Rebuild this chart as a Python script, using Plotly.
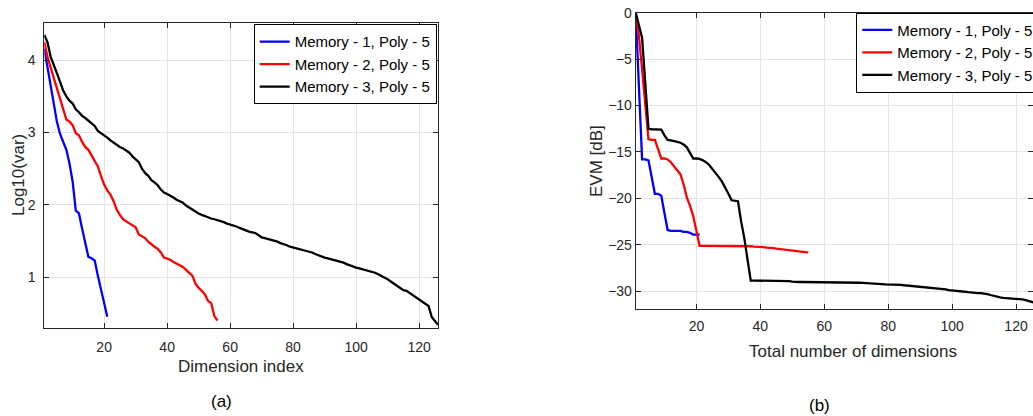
import plotly.graph_objects as go

# ---------------- data: (a) Log10(var) vs dimension index ----------------
var_mem1 = [4.16, 3.90, 3.64, 3.40, 3.15, 2.98, 2.88, 2.76, 2.57, 2.32,
            1.92, 1.88, 1.67, 1.47, 1.28, 1.26, 1.23, 1.02, 0.82, 0.66, 0.45]

var_mem2 = [4.25, 4.05, 3.90, 3.75, 3.60, 3.45, 3.30, 3.18, 3.15, 3.10,
            2.99, 2.96, 2.87, 2.80, 2.76, 2.68, 2.60, 2.53, 2.40, 2.28,
            2.20, 2.14, 2.05, 1.93, 1.86, 1.80, 1.77, 1.74, 1.71, 1.69,
            1.59, 1.57, 1.54, 1.49, 1.45, 1.42, 1.39, 1.34, 1.27, 1.26,
            1.24, 1.21, 1.19, 1.16, 1.14, 1.10, 1.06, 1.02, 0.91, 0.85,
            0.81, 0.76, 0.67, 0.64, 0.46, 0.40]

var_mem3 = [4.35, 4.25, 4.05, 3.92, 3.82, 3.70, 3.58, 3.50, 3.44, 3.40,
            3.32, 3.28, 3.23, 3.20, 3.16, 3.12, 3.09, 3.02, 2.99, 2.97,
            2.93, 2.89, 2.86, 2.82, 2.80, 2.78, 2.75, 2.72, 2.67, 2.63,
            2.59, 2.50, 2.44, 2.40, 2.34, 2.31, 2.27, 2.21, 2.17, 2.15,
            2.13, 2.10, 2.07, 2.05, 2.03, 1.99, 1.96, 1.93, 1.90, 1.88,
            1.86, 1.84, 1.82, 1.81, 1.80, 1.79, 1.77, 1.76, 1.74, 1.73,
            1.72, 1.70, 1.68, 1.66, 1.64, 1.63, 1.62, 1.61, 1.58, 1.55,
            1.54, 1.53, 1.51, 1.50, 1.49, 1.47, 1.46, 1.44, 1.42, 1.41,
            1.40, 1.39, 1.38, 1.36, 1.35, 1.34, 1.32, 1.30, 1.28, 1.27,
            1.26, 1.25, 1.23, 1.22, 1.21, 1.20, 1.18, 1.16, 1.14, 1.13,
            1.12, 1.11, 1.10, 1.09, 1.08, 1.06, 1.04, 1.02, 1.00, 0.97,
            0.94, 0.91, 0.88, 0.85, 0.82, 0.81, 0.78, 0.76, 0.73, 0.69,
            0.66, 0.63, 0.60, 0.45, 0.39, 0.34]

# ---------------- data: (b) EVM vs total number of dimensions ----------------
evm_mem1 = [0.0, -7.9, -15.8, -15.8, -15.9, -17.7, -19.5, -19.5, -19.7, -21.6,
            -23.4, -23.5, -23.5, -23.5, -23.5, -23.6, -23.6, -23.7, -23.9, -23.9,
            -23.9]

evm_mem2 = [0.0, -2.5, -6.1, -10.1, -13.6, -13.7, -13.7, -14.7, -15.7, -15.7,
            -15.8, -16.1, -16.5, -17.0, -17.4, -18.5, -19.9, -20.8, -21.9, -23.5,
            -25.1, -25.1, -25.1, -25.1, -25.1, -25.1, -25.1, -25.1, -25.1, -25.1,
            -25.1, -25.1, -25.1, -25.1, -25.1, -25.1, -25.15, -25.2, -25.2, -25.25,
            -25.25, -25.3, -25.3, -25.35, -25.4, -25.45, -25.5, -25.55, -25.6, -25.65,
            -25.7, -25.72, -25.75, -25.78, -25.8]

evm_mem3 = [0.0, -1.4, -2.7, -7.6, -12.5, -12.55, -12.55, -12.6, -12.6, -13.2,
            -13.7, -13.75, -13.8, -13.9, -14.0, -14.2, -14.5, -15.1, -15.7, -15.7,
            -15.75, -15.9, -16.1, -16.4, -16.8, -17.2, -17.7, -18.2, -18.8, -19.5,
            -20.2, -20.25, -20.3, -22.5, -24.3, -26.6, -28.85, -28.85, -28.85, -28.85,
            -28.86, -28.87, -28.87, -28.88, -28.88, -28.89, -28.89, -28.9, -28.9, -28.95,
            -29.0, -29.0, -29.0, -29.0, -29.0, -29.0, -29.0, -29.0, -29.0, -29.01,
            -29.02, -29.02, -29.03, -29.03, -29.04, -29.05, -29.05, -29.06, -29.07, -29.08,
            -29.08, -29.09, -29.1, -29.12, -29.15, -29.18, -29.2, -29.22, -29.25, -29.25,
            -29.25, -29.25, -29.26, -29.3, -29.35, -29.38, -29.42, -29.46, -29.5, -29.55,
            -29.58, -29.6, -29.6, -29.62, -29.65, -29.68, -29.7, -29.8, -29.88, -29.9,
            -29.93, -29.97, -30.0, -30.05, -30.1, -30.15, -30.18, -30.2, -30.2, -30.22,
            -30.3, -30.4, -30.5, -30.58, -30.65, -30.7, -30.72, -30.75, -30.78, -30.8,
            -30.82, -30.88, -30.95, -31.05, -31.15, -31.25]

series_names = ["Memory - 1, Poly - 5", "Memory - 2, Poly - 5", "Memory - 3, Poly - 5"]
series_colors = ["#0000ff", "#ff0000", "#000000"]

left_ticks_x = [20, 40, 60, 80, 100, 120]
left_ticks_y = [1, 2, 3, 4]
right_ticks_x = [20, 40, 60, 80, 100, 120]
right_ticks_y = [-30, -25, -20, -15, -10, -5, 0]

W, H = 1033, 416
FONT = "Liberation Sans, Arial, Helvetica, sans-serif"
AX = "#262626"

fig = go.Figure()

for name, color, ys in zip(series_names, series_colors, [var_mem1, var_mem2, var_mem3]):
    fig.add_trace(go.Scatter(x=list(range(1, len(ys) + 1)), y=ys, mode="lines",
                             name=name, line=dict(color=color, width=2.3),
                             xaxis="x", yaxis="y", legend="legend"))

for name, color, ys in zip(series_names, series_colors, [evm_mem1, evm_mem2, evm_mem3]):
    fig.add_trace(go.Scatter(x=list(range(1, len(ys) + 1)), y=ys, mode="lines",
                             name=name, line=dict(color=color, width=2.3),
                             xaxis="x2", yaxis="y2", legend="legend2"))


def px_x(p):
    return p / W


def px_y(p):
    return 1 - p / H


common = dict(showline=True, linecolor=AX, linewidth=1, mirror="ticks",
              ticks="inside", ticklen=5, tickcolor=AX, showgrid=True,
              gridcolor="#e3e3e3", gridwidth=1, zeroline=False, automargin=False,
              tickfont=dict(family=FONT, size=14, color=AX))

fig.update_layout(
    width=W, height=H,
    margin=dict(l=0, r=0, t=0, b=0, pad=0, autoexpand=False),
    paper_bgcolor="white", plot_bgcolor="white",
    font=dict(family=FONT, color=AX),
    xaxis=dict(domain=[px_x(44.3), px_x(438)], range=[1, 126],
               tickvals=left_ticks_x, anchor="y", ticklabelstandoff=6, **common),
    yaxis=dict(domain=[px_y(327.7), px_y(23.3)], range=[0.30, 4.51],
               tickvals=left_ticks_y, anchor="x", ticklabelstandoff=5, **common),
    xaxis2=dict(domain=[px_x(635.7), 1.0], range=[1, 1 + (W - 635.7) / 3.196],
                tickvals=right_ticks_x, anchor="y2", ticklabelstandoff=4, **common),
    yaxis2=dict(domain=[px_y(309.3), px_y(12.7)], range=[-31.94, 0],
                tickvals=right_ticks_y, anchor="x2", ticklabelstandoff=0, **common),
    legend=dict(x=px_x(436.7), y=px_y(24.3), xanchor="right", yanchor="top",
                bgcolor="white", bordercolor="#000000", borderwidth=1,
                font=dict(family=FONT, size=15, color="#000000"),
                tracegroupgap=0, itemwidth=30),
    legend2=dict(x=px_x(856.3), y=px_y(12.7), xanchor="left", yanchor="top",
                 bgcolor="white", bordercolor="#000000", borderwidth=1,
                 font=dict(family=FONT, size=15, color="#000000"),
                 tracegroupgap=0, itemwidth=30),
    showlegend=True,
)

ann = [
    dict(text="Log10(var)", x=px_x(18.5), y=px_y(175.5), textangle=-90),
    dict(text="Dimension index", x=px_x(241), y=px_y(366), textangle=0),
    dict(text="EVM [dB]", x=px_x(596), y=px_y(161), textangle=-90),
    dict(text="Total number of dimensions", x=px_x(852.5), y=px_y(351), textangle=0),
    dict(text="(a)", x=px_x(221.7), y=px_y(401.7), textangle=0),
    dict(text="(b)", x=px_x(819), y=px_y(405), textangle=0),
]
for a in ann:
    fig.add_annotation(text=a["text"], x=a["x"], y=a["y"], xref="paper", yref="paper",
                       xanchor="center", yanchor="middle", showarrow=False,
                       textangle=a["textangle"],
                       font=dict(family=FONT, size=17,
                                 color="#000000" if a["text"].startswith("(") else AX))

fig.write_html("out.html")
